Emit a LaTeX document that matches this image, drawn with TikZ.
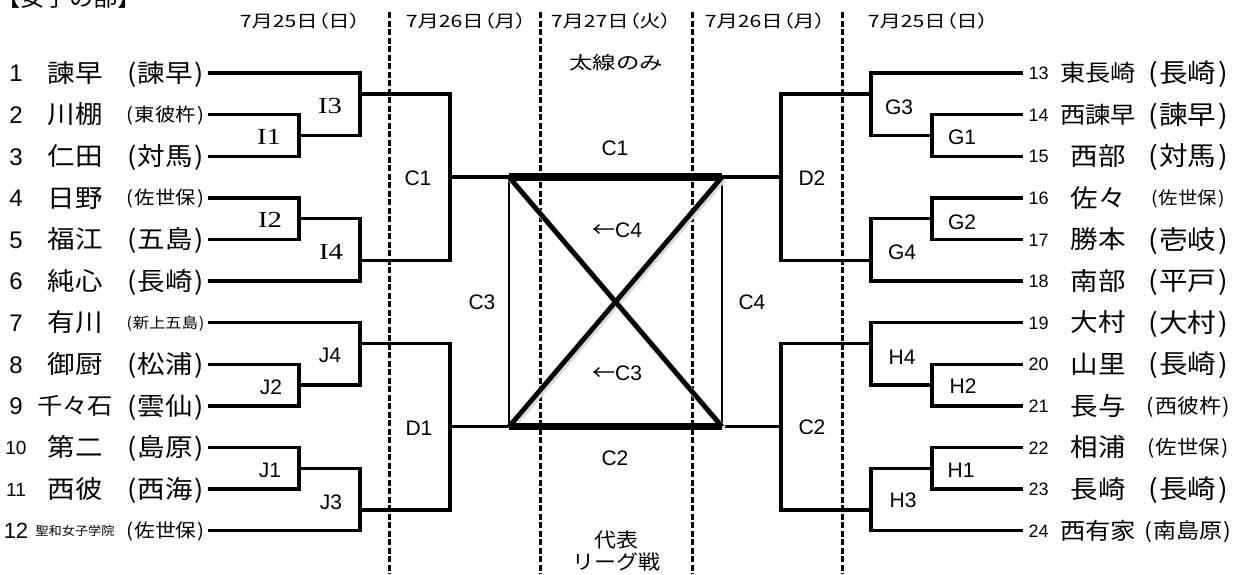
\documentclass[tikz,border=0pt]{standalone}
\usepackage{fontspec}
\setmainfont{Liberation Sans}
\newfontfamily\jp[FakeStretch=1.1]{Noto Sans CJK JP}
\newfontfamily\jd[FakeStretch=1.25,CharacterWidth=AlternateProportional]{Noto Sans CJK JP}
\newfontfamily\jdn[FakeStretch=1.3]{Noto Sans CJK JP}
\newfontfamily\ser[FakeStretch=1.25]{Liberation Serif}
\newcommand\ry[1]{73+(#1-1)*41.6}
\newcommand\pp[1]{(\kern0.06em#1\kern0.06em)}
\newcommand\lteam[7]{%
  \node[tx=#2] (num#1) at (16,{\ry{#1}}) {#3};
  \node[tx=#4] (name#1) at (75,{\ry{#1}}) {\jp #5};
  \node[tx=#6] (par#1) at (165.5,{\ry{#1}}) {\jp\pp{#7}};
}
\newcommand\rteam[7]{%
  \node[tx=#2] (num#1) at (1038.5,{\ry{#1-12}}) {#3};
  \node[tx=#4] (name#1) at (1098,{\ry{#1-12}}) {\jp #5};
  \node[tx=#6] (par#1) at (1188,{\ry{#1-12}}) {\jp\pp{#7}};
}
\begin{document}
\begin{tikzpicture}[x=1pt,y=-1pt,
  tx/.style={anchor=base,inner sep=0pt,yshift={-0.37*#1},font=\fontsize{#1}{#1}\selectfont},
  br/.style={line width=3.4pt},
  dv/.style={line width=3pt,dash pattern=on 6pt off 2.5pt},
  sl/.style={anchor=base,inner sep=0pt,yshift={-0.36*21},font=\fontsize{21}{21}\selectfont},
  il/.style={anchor=base,inner sep=0pt,yshift={-0.33*23},font=\ser\fontsize{23}{23}\selectfont},
  thin box/.style={line width=2.6pt},
  diag/.style={line width=4.8pt},
  diagshadow/.style={line width=6pt,black!15},
  thick box/.style={line width=7.5pt},
]
\useasboundingbox (0,0) rectangle (1234,574);

% title
\node[tx=22] (title) at (69,-2) {\jp 【女子の部】};

% dates
\node[tx=17] (d1) at (300,21) {\jd 7月25日（日）};
\node[tx=17] (d2) at (466,21) {\jd 7月26日（月）};
\node[tx=17] (d3) at (611,21) {\jd 7月27日（火）};
\node[tx=17] (d4) at (765,21) {\jd 7月26日（月）};
\node[tx=17] (d5) at (928,21) {\jd 7月25日（日）};

% dashed day separators
\foreach \x [count=\k] in {389,540,692,842} {
  \coordinate (vt\k) at (\x,12);
  \coordinate (vb\k) at (\x,574);
  \draw[dv] (vt\k) -- (vb\k);
}

% row coordinates
\foreach \i in {1,...,12} \coordinate (L\i) at (208,{\ry{\i}});
\foreach \i in {13,...,24} \coordinate (R\i) at (1023,{\ry{\i-12}});

% left joints
\coordinate (I1) at (299,135.4); \coordinate (I1o) at (360,135.4);
\coordinate (I3) at (360,93.8);  \coordinate (I3o) at (450,93.8);
\coordinate (I2) at (299,218.6); \coordinate (I2o) at (360,218.6);
\coordinate (I4) at (360,260.2); \coordinate (I4o) at (450,260.2);
\coordinate (LC) at (450,177);
\coordinate (J2) at (299,385);   \coordinate (J2o) at (360,385);
\coordinate (J4) at (360,343.4); \coordinate (J4o) at (450,343.4);
\coordinate (J1) at (299,468.2); \coordinate (J1o) at (360,468.2);
\coordinate (J3) at (360,509.8); \coordinate (J3o) at (450,509.8);
\coordinate (LD) at (450,426.6);
% box
\coordinate (BTL) at (509,177);   \coordinate (BTR) at (722,177);
\coordinate (BBL) at (509,426.6); \coordinate (BBR) at (722,426.6);
% right joints
\coordinate (G1) at (932,135.4); \coordinate (G1o) at (871,135.4);
\coordinate (G3) at (871,93.8);  \coordinate (G3o) at (781,93.8);
\coordinate (G2) at (932,218.6); \coordinate (G2o) at (871,218.6);
\coordinate (G4) at (871,260.2); \coordinate (G4o) at (781,260.2);
\coordinate (RD) at (781,177);
\coordinate (H2) at (932,385);   \coordinate (H2o) at (871,385);
\coordinate (H4) at (871,343.4); \coordinate (H4o) at (781,343.4);
\coordinate (H1) at (932,468.2); \coordinate (H1o) at (871,468.2);
\coordinate (H3) at (871,509.8); \coordinate (H3o) at (781,509.8);
\coordinate (RC) at (781,426.6);

% left bracket
\draw[br] (L2) -| (I1) |- (L3);
\draw[br] (L1) -| (I1o) -- (I1);
\draw[br] (L4) -| (I2) |- (L5);
\draw[br] (L6) -| (I2o) -- (I2);
\draw[br] (I3) -- (I3o) -- (I4o) -- (I4);
\draw[br] (LC) -- (BTL);
\draw[br] (L8) -| (J2) |- (L9);
\draw[br] (L7) -| (J2o) -- (J2);
\draw[br] (L10) -| (J1) |- (L11);
\draw[br] (L12) -| (J1o) -- (J1);
\draw[br] (J4) -- (J4o) -- (J3o) -- (J3);
\draw[br] (LD) -- (BBL);
% right bracket
\draw[br] (R14) -| (G1) |- (R15);
\draw[br] (R13) -| (G1o) -- (G1);
\draw[br] (R16) -| (G2) |- (R17);
\draw[br] (R18) -| (G2o) -- (G2);
\draw[br] (G3) -- (G3o) -- (G4o) -- (G4);
\draw[br] (RD) -- (BTR);
\draw[br] (R20) -| (H2) |- (R21);
\draw[br] (R19) -| (H2o) -- (H2);
\draw[br] (R22) -| (H1) |- (R23);
\draw[br] (R24) -| (H1o) -- (H1);
\draw[br] (H4) -- (H4o) -- (H3o) -- (H3);
\draw[br] (RC) -- (BBR);

% league box
\draw[thin box] (BTL) -- (BBL);
\draw[thin box] (BTR) -- (BBR);
\draw[diagshadow] ([shift={(1.5,2)}]BTL) -- ([shift={(1.5,2)}]BBR);
\draw[diagshadow] ([shift={(1.5,2)}]BTR) -- ([shift={(1.5,2)}]BBL);
\draw[diag] (BTL) -- (BBR);
\draw[diag] (BTR) -- (BBL);
\draw[thick box] (BTL) -- (BTR);
\draw[thick box] (BBL) -- (BBR);

% match labels left
\node[il] (lI1) at (269,137) {I1};
\node[il] (lI3) at (330,106) {I3};
\node[il] (lI2) at (270,220) {I2};
\node[il] (lI4) at (331,252) {I4};
\node[sl] (lJ2) at (271,387) {J2};
\node[sl] (lJ4) at (330,355) {J4};
\node[sl] (lJ1) at (270,470) {J1};
\node[sl] (lJ3) at (331,502) {J3};
\node[sl] (lC1) at (418,178) {C1};
\node[sl] (lD1) at (419,428) {D1};
% match labels right
\node[sl] (lG1) at (962,137) {G1};
\node[sl] (lG3) at (899,107) {G3};
\node[sl] (lG2) at (962,222) {G2};
\node[sl] (lG4) at (902,252) {G4};
\node[sl] (lH2) at (963,386) {H2};
\node[sl] (lH4) at (902,357) {H4};
\node[sl] (lH1) at (961,470) {H1};
\node[sl] (lH3) at (903,500) {H3};
\node[sl] (lD2) at (812,178) {D2};
\node[sl] (lC2) at (812,427) {C2};
% centre labels
\node[tx=18] (thick) at (616,63) {\jdn 太線のみ};
\node[sl] (mc1) at (615,148) {C1};
\node[sl] (mc4) at (617,230) {{\jp ←}C4};
\node[sl] (sc3) at (482,302) {C3};
\node[sl] (sc4) at (752,302) {C4};
\node[sl] (mc3) at (617,373) {{\jp ←}C3};
\node[sl] (mc2) at (615,458) {C2};
\node[tx=20] (rep1) at (616,540) {\jp 代表};
\node[tx=20] (rep2) at (616,562) {\jp リーグ戦};

% teams left
\lteam{1}{24}{1}{25}{諫早}{25}{諫早}
\lteam{2}{24}{2}{25}{川棚}{18.5}{東彼杵}
\lteam{3}{24}{3}{25}{仁田}{25}{対馬}
\lteam{4}{24}{4}{25}{日野}{18.5}{佐世保}
\lteam{5}{24}{5}{25}{福江}{25}{五島}
\lteam{6}{24}{6}{25}{純心}{25}{長崎}
\lteam{7}{24}{7}{25}{有川}{14.8}{新上五島}
\lteam{8}{24}{8}{25}{御厨}{25}{松浦}
\lteam{9}{24}{9}{23}{千々石}{25}{雲仙}
\lteam{10}{19}{10}{25}{第二}{25}{島原}
\lteam{11}{19}{11}{25}{西彼}{25}{西海}
\lteam{12}{22}{12}{12}{聖和女子学院}{18.8}{佐世保}
% teams right
\rteam{13}{18}{13}{23}{東長崎}{26}{長崎}
\rteam{14}{18}{14}{23}{西諫早}{26}{諫早}
\rteam{15}{18}{15}{25}{西部}{26}{対馬}
\rteam{16}{18}{16}{25}{佐々}{17.6}{佐世保}
\rteam{17}{18}{17}{25}{勝本}{26}{壱岐}
\rteam{18}{18}{18}{25}{南部}{26}{平戸}
\rteam{19}{18}{19}{25}{大村}{26}{大村}
\rteam{20}{18}{20}{25}{山里}{26}{長崎}
\rteam{21}{18}{21}{25}{長与}{20}{西彼杵}
\rteam{22}{18}{22}{25}{相浦}{19.5}{佐世保}
\rteam{23}{18}{23}{25}{長崎}{26}{長崎}
\rteam{24}{18}{24}{23}{西有家}{21}{南島原}
\end{tikzpicture}
\end{document}
